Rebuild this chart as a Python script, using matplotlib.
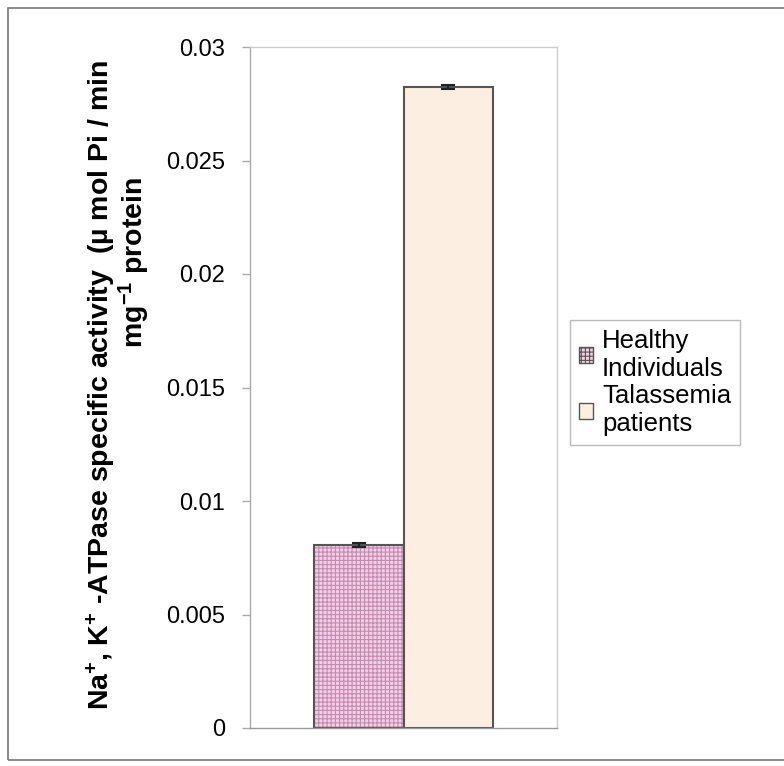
import matplotlib
matplotlib.use("Agg")
from matplotlib import pyplot as plt
from matplotlib.patches import Rectangle

groups = ["Healthy\nIndividuals", "Talassemia\npatients"]
activity = [0.00806, 0.02825]
errors = [0.00008, 0.00008]
yticks = [0, 0.005, 0.01, 0.015, 0.02, 0.025, 0.03]
ytick_labels = ["0", "0.005", "0.01", "0.015", "0.02", "0.025", "0.03"]

plt.rcParams['font.family'] = ['Liberation Sans', 'DejaVu Sans']
plt.rcParams['hatch.linewidth'] = 0.8
plt.rcParams['hatch.color'] = "#c48ab2"

fig = plt.figure(figsize=(7.84, 7.66), dpi=100)
ax = fig.add_axes([250 / 784, 38 / 766, 307 / 784, 681 / 766])

offsets = [-0.29, 0.29]
faces = ["#f1cfe4", "#fdeee2"]
hatches = ["++++", None]
for off, val, err, face, hatch, lab in zip(offsets, activity, errors, faces, hatches, groups):
    # fill + hatch first, then the dark outline on top
    ax.bar(off, val, width=0.58, color=face, edgecolor="#c48ab2", linewidth=0,
           hatch=hatch, label=lab)
    ax.bar(off, val, width=0.58, fill=False, edgecolor="#555555", linewidth=1.5,
           yerr=err, capsize=5,
           error_kw=dict(ecolor="#222222", elinewidth=1.5, capthick=1.5))

ax.set_xlim(-1, 1)
ax.set_ylim(0, 0.03)
ax.set_yticks(yticks)
ax.set_yticklabels(ytick_labels, fontsize=17)
ax.set_xticks([])
ax.tick_params(axis='y', length=6, width=1, color="#aaaaaa", pad=12)
for s in ax.spines.values():
    s.set_color("#cccccc")
    s.set_linewidth(1)
ax.spines['bottom'].set_color("#999999")
ax.spines['left'].set_color("#aaaaaa")

lab_font = ['Liberation Sans Narrow', 'Liberation Sans', 'DejaVu Sans']
line1 = "Na$\\mathregular{^{+}}$, K$\\mathregular{^{+}}$ -ATPase specific activity  (\u00b5 mol Pi / min"
line2 = "mg$\\mathregular{^{-1}}$ protein"
fig.text(101 / 784, 1 - 385 / 766, line1, rotation=90, ha='center', va='center',
         fontsize=20.5, fontweight='bold', family=lab_font)
fig.text(134 / 784, 1 - 262 / 766, line2, rotation=90, ha='center', va='center',
         fontsize=20.5, fontweight='bold', family=lab_font)

leg = fig.legend(loc='upper left', bbox_to_anchor=(557 / 784, 1 - 307 / 766),
                 fontsize=18.5, frameon=True, fancybox=False, handlelength=0.55,
                 handleheight=0.55, handletextpad=0.35, borderpad=0.35,
                 labelspacing=0.15, edgecolor="#aaaaaa")
leg.get_frame().set_linewidth(1)
for h in leg.legend_handles:
    h.set_edgecolor("#555555")
    h.set_linewidth(1)

fig.patches.append(Rectangle((8 / 784, 6 / 766), 0.995, 1 - 14 / 766,
                             transform=fig.transFigure, fill=False,
                             edgecolor="#777777", linewidth=1.2))

fig.savefig("out.png", dpi=100)
